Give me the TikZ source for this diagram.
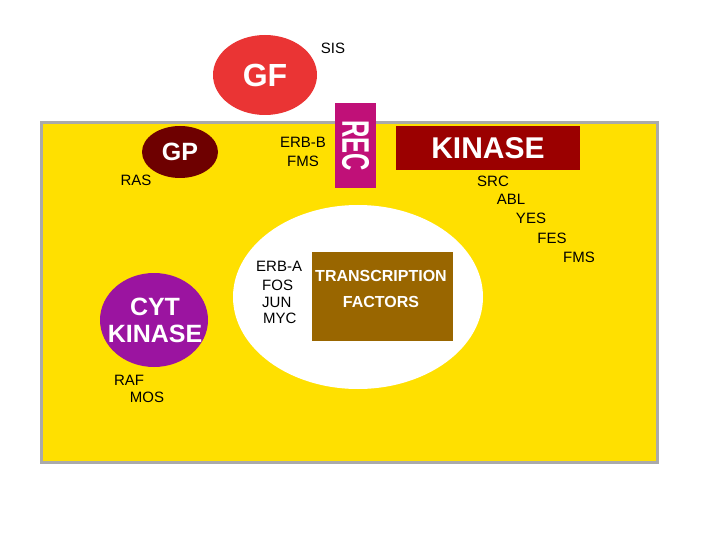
\documentclass[tikz,border=0pt]{standalone}
\usepackage{fontspec}
\setmainfont{Liberation Sans}
\usetikzlibrary{shapes.geometric}
\definecolor{cellfill}{RGB}{255,224,0}
\definecolor{cellrim}{RGB}{170,170,170}
\definecolor{gfred}{RGB}{234,52,52}
\definecolor{recmag}{RGB}{192,16,120}
\definecolor{kinred}{RGB}{155,0,0}
\definecolor{gpdark}{RGB}{110,0,0}
\definecolor{cytpur}{RGB}{155,20,160}
\definecolor{tfbrown}{RGB}{153,102,0}

\begin{document}
\begin{tikzpicture}[
    x=1pt, y=-1pt,
    blob/.style={ellipse, inner sep=0pt, text=white, font=\bfseries},
    slab/.style={rectangle, inner sep=0pt, text=white, font=\bfseries},
    tag/.style={font=\fontsize{15}{17}\selectfont, inner sep=0pt},
  ]
  \useasboundingbox (0,0) rectangle (720,540);

  %% ================= the cell =================
  \draw[cellrim, fill=cellfill, line width=3pt] (41,123) rectangle (657,462);
  \node[ellipse, fill=white, minimum width=250pt, minimum height=184pt] (nucleus) at (358,297) {};

  %% ================= outside and membrane =================
  \node[blob, fill=gfred, minimum width=104pt, minimum height=80pt,
        font=\bfseries\fontsize{32}{34}\selectfont] (gf) at (265,75) {GF};
  \node[tag] (sis) at (333,48) {SIS};

  \node[slab, fill=recmag, minimum width=41pt, minimum height=85pt] (rec) at (355.5,145.5) {};
  \node[rotate=-90, text=white, font=\bfseries\fontsize{24}{26}\selectfont] (reclab) at (rec.center)
    {\scalebox{1}[1.6]{REC}};
  \node[tag] (erbb) at (303,142) {ERB-B};
  \node[tag] (fmsb) at (303,161) {FMS};

  \node[slab, fill=kinred, minimum width=184pt, minimum height=44pt,
        font=\bfseries\fontsize{30}{32}\selectfont] (kinase) at (488,148) {KINASE};
  \node[tag] (src) at (493,181) {SRC};
  \node[tag] (abl) at (511,199) {ABL};
  \node[tag] (yes) at (531,218) {YES};
  \node[tag] (fes) at (552,238) {FES};
  \node[tag] (fmsk) at (579,257) {FMS};

  %% ================= cytoplasm =================
  \node[blob, fill=gpdark, minimum width=76pt, minimum height=52pt,
        font=\bfseries\fontsize{25}{27}\selectfont] (gp) at (180,152) {GP};
  \node[tag] (ras) at (136,180) {RAS};

  \node[blob, fill=cytpur, minimum width=108pt, minimum height=94pt] (cyt) at (154,320) {};
  \node[text=white, font=\bfseries\fontsize{25}{27}\selectfont, inner sep=0pt] (cytlab) at (155,307) {CYT};
  \node[text=white, font=\bfseries\fontsize{25}{27}\selectfont, inner sep=0pt] (kinlab) at (155,334) {KINASE};
  \node[tag] (raf) at (129,380) {RAF};
  \node[tag] (mos) at (147,397) {MOS};

  %% ================= nucleus =================
  \node[slab, fill=tfbrown, minimum width=141pt, minimum height=89pt] (tf) at (382.5,296.5) {};
  \node[text=white, font=\bfseries\fontsize{16}{18}\selectfont, inner sep=0pt] (tfa) at (381,276) {TRANSCRIPTION};
  \node[text=white, font=\bfseries\fontsize{16}{18}\selectfont, inner sep=0pt] (tfb) at (381,302) {FACTORS};
  \node[tag, anchor=west] (erba) at (256,266) {ERB-A};
  \node[tag, anchor=west] (fos) at (262,285) {FOS};
  \node[tag, anchor=west] (jun) at (262,302) {JUN};
  \node[tag, anchor=west] (myc) at (263,318) {MYC};

\end{tikzpicture}
\end{document}
